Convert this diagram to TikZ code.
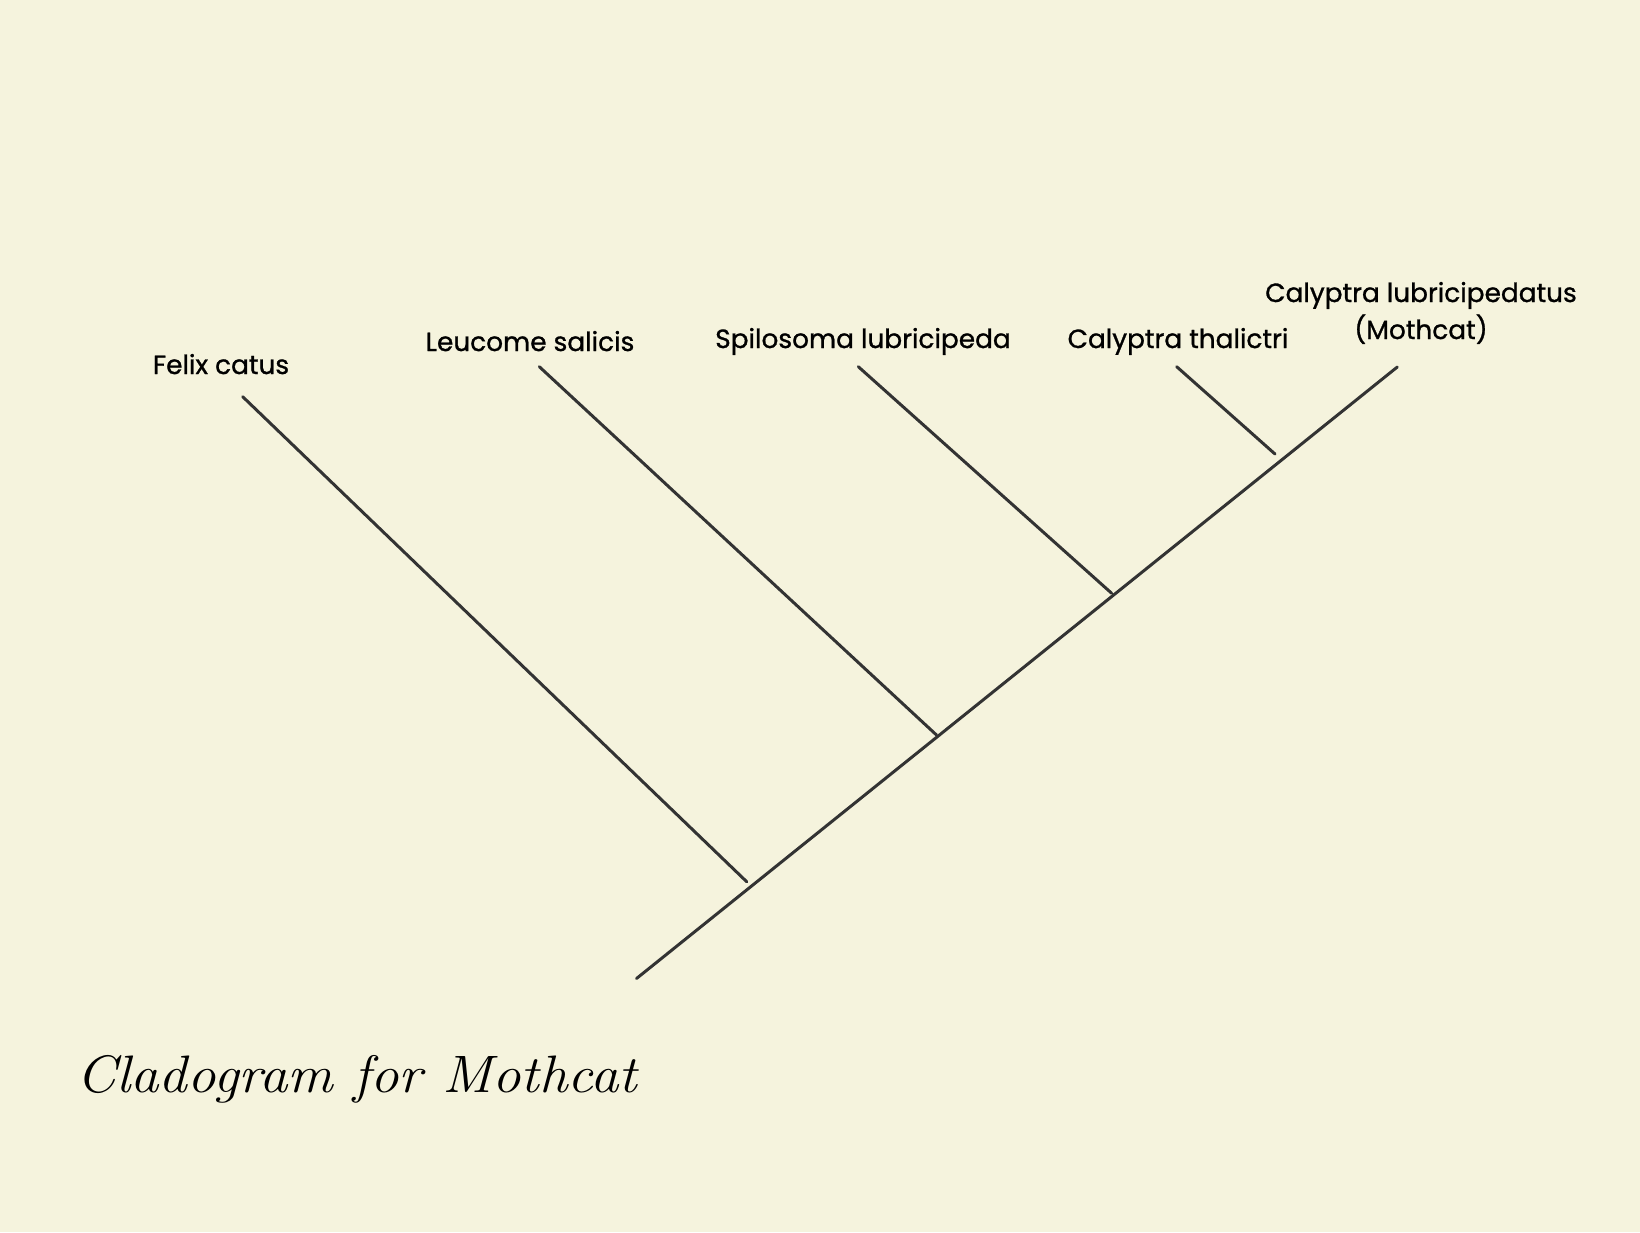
\documentclass[tikz,border=0pt]{standalone}
\usepackage{fontspec}
\newfontfamily\labelfont{Poppins}[FakeBold=1]
\definecolor{paper}{HTML}{F5F3DD}
\definecolor{ink}{HTML}{333333}
\tikzset{
  branch/.style={line width=1.7pt,color=ink,line cap=round},
  taxon/.style={anchor=base,inner sep=0pt,font=\labelfont\fontsize{15}{18}\selectfont},
}
\begin{document}
\begin{tikzpicture}[x=0.02cm,y=-0.02cm]
	\fill[paper] (0,0) rectangle (1640,1232);
	\useasboundingbox (0,0) rectangle (1640,1232);
	% trunk
	\coordinate (root) at (636.5,978.5);
	\coordinate (mothcat) at (1397.3,367);
	\draw[branch] (root) -- (mothcat);
	% tips and joins
	\coordinate (felix) at (242.7,396.7);
	\coordinate (felixjoin) at (746.7,881.7);
	\coordinate (leucome) at (539.3,366.7);
	\coordinate (leucomejoin) at (936.5,735);
	\coordinate (spilosoma) at (858.3,366.7);
	\coordinate (spilosomajoin) at (1111.7,593.3);
	\coordinate (thalictri) at (1176.7,366.7);
	\coordinate (thalictrijoin) at (1275,454);
	\draw[branch] (felix) -- (felixjoin);
	\draw[branch] (leucome) -- (leucomejoin);
	\draw[branch] (spilosoma) -- (spilosomajoin);
	\draw[branch] (thalictri) -- (thalictrijoin);
	% labels
	\node[taxon] (felixlbl) at (221,374) {Felix catus};
	\node[taxon] (leucomelbl) at (530,351) {Leucome salicis};
	\node[taxon] (spilosomalbl) at (863,348) {Spilosoma lubricipeda};
	\node[taxon] (thalictrilbl) at (1178,348) {Calyptra thalictri};
	\node[taxon] (mothcatlbl) at (1421,302) {Calyptra lubricipedatus};
	\node[taxon] (mothcatlbl2) at (1421,339) {(Mothcat)};
	% title
	\node[anchor=base west,inner sep=0pt,xscale=1.08,font=\itshape\fontsize{30}{34}\selectfont] (title) at (76,1092) {Cladogram for Mothcat};
\end{tikzpicture}
\end{document}
